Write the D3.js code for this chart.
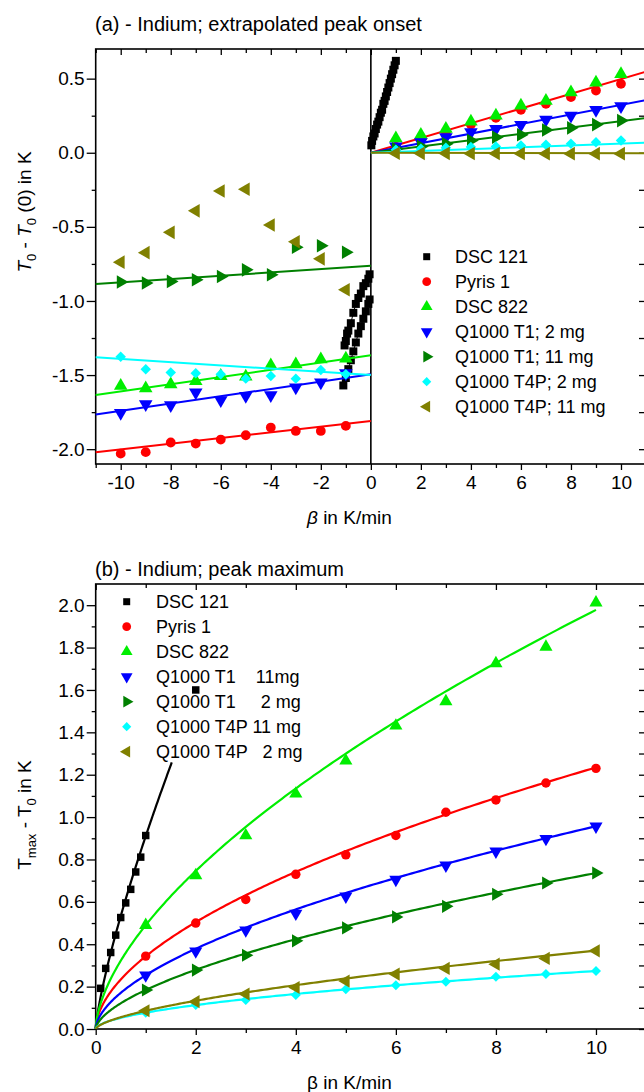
<!DOCTYPE html>
<html>
<head>
<meta charset="utf-8">
<script src="https://cdn.jsdelivr.net/npm/d3@7"></script>
<style>
  html, body { margin: 0; padding: 0; background: #fff; }
  svg { display: block; }
  text { font-family: "Liberation Sans", Arial, sans-serif; fill: #000; }
</style>
</head>
<body>
<svg id="chart" width="644" height="1092"></svg>
<script>
// ---------------- DATA ----------------
const seriesNames = ["DSC 121", "Pyris 1", "DSC 822", "Q1000 T1; 2 mg", "Q1000 T1; 11 mg", "Q1000 T4P; 2 mg", "Q1000 T4P; 11 mg"];
const seriesNamesB = ["DSC 121", "Pyris 1", "DSC 822", "Q1000 T1    11mg", "Q1000 T1     2 mg", "Q1000 T4P 11 mg", "Q1000 T4P   2 mg"];
const seriesColors = ["#000000", "#ff0000", "#00ee00", "#0000ff", "#008000", "#00ffff", "#808000"];
const seriesSymbols = ["square", "circle", "up", "down", "right", "diamond", "left"];

// Panel (a): heating rates
const betaPos = [1, 2, 3, 4, 5, 6, 7, 8, 9, 10];
const betaNeg = [-10, -9, -8, -7, -6, -5, -4, -3, -2, -1];

const pyrisPos   = [0.04, 0.09, 0.14, 0.19, 0.235, 0.29, 0.33, 0.375, 0.42, 0.465];
const dsc822Pos  = [0.098, 0.121, 0.161, 0.21, 0.25, 0.318, 0.351, 0.407, 0.474, 0.53];
const t1_2Pos    = [0.042, 0.071, 0.105, 0.138, 0.161, 0.188, 0.223, 0.25, 0.289, 0.315];
const t1_11Pos   = [0.027, 0.042, 0.06, 0.083, 0.105, 0.121, 0.154, 0.168, 0.19, 0.217];
const t4p_2Pos   = [0.02, 0.027, 0.034, 0.038, 0.042, 0.049, 0.054, 0.06, 0.071, 0.083];
const t4p_11Pos  = [-0.003, -0.004, -0.004, -0.005, -0.005, -0.005, -0.006, -0.006, -0.006, -0.006];

const pyrisNeg   = [-2.03, -2.02, -1.955, -1.962, -1.935, -1.906, -1.854, -1.877, -1.877, -1.843];
const dsc822Neg  = [-1.573, -1.589, -1.562, -1.54, -1.506, -1.51, -1.434, -1.427, -1.394, -1.389];
const t1_2Neg    = [-1.756, -1.696, -1.703, -1.617, -1.669, -1.64, -1.635, -1.584, -1.55, -1.488];
const t1_11Neg   = [-0.872, -0.879, -0.868, -0.857, -0.835, -0.79, -0.823, -0.638, -0.627, -0.671];
const t4p_2Neg   = [-1.376, -1.461, -1.483, -1.488, -1.495, -1.524, -1.506, -1.524, -1.466, -1.495];
const t4p_11Neg  = [-0.738, -0.674, -0.537, -0.392, -0.258, -0.246, -0.488, -0.6, -0.716, -0.924];

// DSC 121 (panel a), dense sampling near zero
const dsc121PosBeta = [0.02, 0.05, 0.1, 0.15, 0.2, 0.25, 0.3, 0.35, 0.4, 0.45, 0.5, 0.55, 0.6, 0.65, 0.7, 0.75, 0.8, 0.85, 0.9, 0.95, 1.0];
const dsc121PosVal  = [0.05, 0.08, 0.11, 0.13, 0.16, 0.19, 0.21, 0.24, 0.27, 0.29, 0.33, 0.35, 0.38, 0.41, 0.44, 0.47, 0.5, 0.53, 0.56, 0.59, 0.62];
const dsc121NegABeta = [-1.05, -1.0, -0.95, -0.9, -0.8, -0.7, -0.6, -0.5, -0.4, -0.3, -0.2, -0.1, -0.05];
const dsc121NegAVal  = [-1.3, -1.27, -1.22, -1.2, -1.15, -1.08, -1.02, -0.98, -0.95, -0.9, -0.88, -0.85, -0.82];
const dsc121NegBBeta = [-1.1, -1.0, -0.9, -0.8, -0.7, -0.6, -0.5, -0.4, -0.3, -0.2, -0.1, -0.05];
const dsc121NegBVal  = [-1.57, -1.52, -1.46, -1.4, -1.34, -1.28, -1.22, -1.17, -1.12, -1.07, -1.02, -0.99];

// Fit lines panel (a): value at beta=11 for lines through origin (null = no line)
const fitPosEnd   = [null, 0.547, null, 0.355, 0.235, 0.068, -0.003];
// Left-side fits: value at beta=-11 and at beta=0
const fitNegStart = [null, -2.02, -1.635, -1.766, -0.885, -1.38, null];
const fitNegEnd   = [null, -1.81, -1.367, -1.495, -0.763, -1.50, null];

// Panel (b)
const betaB = [1, 2, 3, 4, 5, 6, 7, 8, 9, 10];
const pyrisB  = [0.344, 0.5, 0.611, 0.73, 0.822, 0.913, 1.023, 1.081, 1.161, 1.23];
const dsc822B = [0.49, 0.725, 0.913, 1.11, 1.266, 1.431, 1.546, 1.725, 1.803, 2.012];
const t1_11B  = [0.254, 0.367, 0.466, 0.545, 0.626, 0.705, 0.772, 0.838, 0.898, 0.956];
const t1_2B   = [0.184, 0.278, 0.348, 0.416, 0.477, 0.529, 0.579, 0.636, 0.689, 0.736];
const t4p_11B = [0.077, 0.113, 0.137, 0.16, 0.187, 0.207, 0.223, 0.246, 0.259, 0.274];
const t4p_2B  = [0.086, 0.129, 0.165, 0.196, 0.226, 0.259, 0.286, 0.306, 0.333, 0.369];
const dsc121BBeta = [0.1, 0.2, 0.3, 0.4, 0.5, 0.6, 0.7, 0.8, 0.9, 1.0, 2.0];
const dsc121BVal  = [0.192, 0.286, 0.361, 0.443, 0.526, 0.595, 0.659, 0.741, 0.811, 0.913, 1.6];

// Power-law fit parameters panel (b): y = a * beta^b, drawn up to betaMax
const fitBa   = [0.91, 0.343, 0.49, 0.254, 0.184, 0.077, 0.086];
const fitBb   = [0.773, 0.556, 0.606, 0.576, 0.602, 0.551, 0.633];
const fitBmax = [1.52, 10, 10, 10, 10, 10, 10];

// Axis ticks
const xTicksA = [-10, -8, -6, -4, -2, 0, 2, 4, 6, 8, 10];
const yTicksA = [-2.0, -1.5, -1.0, -0.5, 0.0, 0.5];
const xTicksB = [0, 2, 4, 6, 8, 10];
const yTicksB = [0.0, 0.2, 0.4, 0.6, 0.8, 1.0, 1.2, 1.4, 1.6, 1.8, 2.0];

// ---------------- DRAWING ----------------
const svg = d3.select("#chart");

function symbolPath(kind, size) {
  let t = d3.symbolTriangle;
  if (kind === "square" || kind === "diamond") t = d3.symbolSquare;
  else if (kind === "circle") t = d3.symbolCircle;
  return d3.symbol().type(t).size(size)();
}
function symbolRot(kind) {
  return {down: 180, right: 90, left: -90, diamond: 45}[kind] || 0;
}
function drawMarkers(g, pts, x, y, kind, color, size) {
  g.selectAll(null).data(pts).enter().append("path")
    .attr("d", symbolPath(kind, size))
    .attr("transform", d => `translate(${x(d[0])},${y(d[1])}) rotate(${symbolRot(kind)})`)
    .attr("fill", color);
}
function zip(a, b) { return a.map((v, i) => [v, b[i]]); }

function frame(g, x, y, opts) {
  const [x0, x1] = x.range(), [y0, y1] = y.range();
  const bottom = g.append("g").attr("transform", `translate(0,${y0})`)
    .call(d3.axisBottom(x).tickValues(opts.xTicks).tickSize(6).tickPadding(6));
  const bottomMinor = g.append("g").attr("transform", `translate(0,${y0})`)
    .call(d3.axisBottom(x).tickValues(opts.xMinor).tickSize(4).tickFormat(""));
  const top = g.append("g").attr("transform", `translate(0,${y1})`)
    .call(d3.axisTop(x).tickValues(opts.xTicks).tickSize(-6).tickFormat(""));
  const topMinor = g.append("g").attr("transform", `translate(0,${y1})`)
    .call(d3.axisTop(x).tickValues(opts.xMinor).tickSize(-4).tickFormat(""));
  const left = g.append("g").attr("transform", `translate(${x0},0)`)
    .call(d3.axisLeft(y).tickValues(opts.yTicks).tickSize(9).tickPadding(2));
  const leftMinor = g.append("g").attr("transform", `translate(${x0},0)`)
    .call(d3.axisLeft(y).tickValues(opts.yMinor).tickSize(4).tickFormat(""));
  const right = g.append("g").attr("transform", `translate(${x1},0)`)
    .call(d3.axisRight(y).tickValues(opts.yTicks.concat(opts.yMinor)).tickSize(-7).tickFormat(""));
  [bottom, bottomMinor, top, topMinor, left, leftMinor, right].forEach(a => {
    a.select(".domain").remove();
    a.selectAll("line").attr("stroke", "#000").attr("stroke-width", 1.3);
    a.selectAll("text").attr("font-size", 19).attr("font-family", "Liberation Sans, Arial, sans-serif").attr("fill", "#000");
  });
  left.selectAll("text").text(d => d3.format(".1f")(d).replace("\u2212", "-"));
  bottom.selectAll("text").text(d => String(d));
  g.append("rect").attr("x", x0).attr("y", y1).attr("width", x1 - x0).attr("height", y0 - y1)
    .attr("fill", "none").attr("stroke", "#000").attr("stroke-width", 1.6);
}

// ===== Panel (a) =====
const xA = d3.scaleLinear().domain([-11, 11]).range([95.7, 646]);
const yA = d3.scaleLinear().domain([-2.1, 0.7]).range([464, 49]);
const gA = svg.append("g");

const minorXA = d3.range(-11, 12).filter(v => !xTicksA.includes(v));
const minorYA = [-1.75, -1.25, -0.75, -0.25, 0.25];
frame(gA, xA, yA, {xTicks: xTicksA, xMinor: minorXA, yTicks: yTicksA, yMinor: minorYA});

gA.append("line").attr("x1", xA(0)).attr("x2", xA(0)).attr("y1", yA(0.7)).attr("y2", yA(-2.1))
  .attr("stroke", "#000").attr("stroke-width", 1.6);

const posVals = [null, pyrisPos, dsc822Pos, t1_2Pos, t1_11Pos, t4p_2Pos, t4p_11Pos];
const negVals = [null, pyrisNeg, dsc822Neg, t1_2Neg, t1_11Neg, t4p_2Neg, t4p_11Neg];
const lineA = d3.line().x(d => xA(d[0])).y(d => yA(d[1]));

gA.append("path").attr("d", lineA(zip(dsc121NegABeta, dsc121NegAVal))).attr("fill", "none").attr("stroke", "#000").attr("stroke-width", 1);
gA.append("path").attr("d", lineA(zip(dsc121NegBBeta, dsc121NegBVal))).attr("fill", "none").attr("stroke", "#000").attr("stroke-width", 1);
drawMarkers(gA, zip(dsc121PosBeta, dsc121PosVal), xA, yA, "square", "#000", 64);
drawMarkers(gA, zip(dsc121NegABeta, dsc121NegAVal), xA, yA, "square", "#000", 64);
drawMarkers(gA, zip(dsc121NegBBeta, dsc121NegBVal), xA, yA, "square", "#000", 64);

const symSizeA = {circle: 75, up: 80, down: 80, right: 80, left: 80, diamond: 55, square: 64};
for (let i = 1; i < seriesNames.length; i++) {
  const c = seriesColors[i], k = seriesSymbols[i];
  if (fitPosEnd[i] !== null) {
    gA.append("path").attr("d", lineA([[0, 0], [11, fitPosEnd[i]]])).attr("stroke", c).attr("stroke-width", 2).attr("fill", "none");
  }
  if (fitNegStart[i] !== null) {
    gA.append("path").attr("d", lineA([[-11, fitNegStart[i]], [0, fitNegEnd[i]]])).attr("stroke", c).attr("stroke-width", 2).attr("fill", "none");
  }
  drawMarkers(gA, zip(betaPos, posVals[i]), xA, yA, k, c, symSizeA[k]);
  drawMarkers(gA, zip(betaNeg, negVals[i]), xA, yA, k, c, symSizeA[k]);
}

// legend (a)
const legA = svg.append("g");
seriesNames.forEach((n, i) => {
  const cy = 256.7 + 25 * i;
  const k = seriesSymbols[i];
  legA.append("path").attr("d", symbolPath(k, k === "square" ? 49 : (k === "diamond" ? 42 : 60)))
    .attr("transform", `translate(426.7,${cy}) rotate(${symbolRot(k)})`).attr("fill", seriesColors[i]);
  legA.append("text").attr("x", 455).attr("y", cy + 6.5).attr("font-size", 18).text(n);
});

svg.append("text").attr("x", 95).attr("y", 31).attr("font-size", 20).text("(a) - Indium; extrapolated peak onset");
const xlabA = svg.append("text").attr("x", 307).attr("y", 524).attr("font-size", 19);
xlabA.append("tspan").attr("font-style", "italic").text("β");
xlabA.append("tspan").text(" in K/min");

const ylabA = svg.append("text").attr("transform", "translate(31,212) rotate(-90)").attr("text-anchor", "middle").attr("font-size", 19);
ylabA.append("tspan").attr("font-style", "italic").text("T");
ylabA.append("tspan").attr("font-size", 13).attr("dy", 5).text("0");
ylabA.append("tspan").attr("dy", -5).text(" - ");
ylabA.append("tspan").attr("font-style", "italic").text("T");
ylabA.append("tspan").attr("font-size", 13).attr("dy", 5).text("0");
ylabA.append("tspan").attr("dy", -5).text(" (0) in K");

// ===== Panel (b) =====
const xB = d3.scaleLinear().domain([0, 11]).range([95.7, 646]);
const yB = d3.scaleLinear().domain([0, 2.1]).range([1029, 584]);
const gB = svg.append("g");
const minorXB = d3.range(1, 12).filter(v => !xTicksB.includes(v));
const minorYB = d3.range(1, 21, 2).map(v => v / 10);
frame(gB, xB, yB, {xTicks: xTicksB, xMinor: minorXB, yTicks: yTicksB, yMinor: minorYB});

const valsB = [null, pyrisB, dsc822B, t1_11B, t1_2B, t4p_11B, t4p_2B];
const lineB = d3.line().x(d => xB(d[0])).y(d => yB(d[1]));
const symSizeB = {circle: 70, up: 75, down: 75, right: 75, left: 75, diamond: 50, square: 56};

for (let i = 0; i < seriesNames.length; i++) {
  const c = seriesColors[i], k = seriesSymbols[i];
  const fx = d3.range(0, 201).map(j => fitBmax[i] * Math.pow(j / 200, 2));
  const curve = fx.map(b => [b, fitBa[i] * Math.pow(b, fitBb[i])]);
  gB.append("path").attr("d", lineB(curve)).attr("fill", "none").attr("stroke", c).attr("stroke-width", 2.2);
  const pts = i === 0 ? zip(dsc121BBeta, dsc121BVal) : zip(betaB, valsB[i]);
  drawMarkers(gB, pts, xB, yB, k, c, symSizeB[k]);
}

// legend (b)
const legB = svg.append("g");
seriesNamesB.forEach((n, i) => {
  const cy = 601.7 + 25 * i;
  const k = seriesSymbols[i];
  legB.append("path").attr("d", symbolPath(k, k === "square" ? 49 : (k === "diamond" ? 42 : 60)))
    .attr("transform", `translate(126.7,${cy}) rotate(${symbolRot(k)})`).attr("fill", seriesColors[i]);
  legB.append("text").attr("x", 156).attr("y", cy + 6.5).attr("font-size", 18)
    .attr("xml:space", "preserve").style("white-space", "pre").text(n);
});

svg.append("text").attr("x", 95).attr("y", 576).attr("font-size", 20).text("(b) - Indium; peak maximum");
svg.append("text").attr("x", 307).attr("y", 1089).attr("font-size", 19).text("β in K/min");
const ylabB = svg.append("text").attr("transform", "translate(31,815) rotate(-90)").attr("text-anchor", "middle").attr("font-size", 19);
ylabB.append("tspan").text("T");
ylabB.append("tspan").attr("font-size", 13).attr("dy", 5).text("max");
ylabB.append("tspan").attr("dy", -5).text(" - T");
ylabB.append("tspan").attr("font-size", 13).attr("dy", 5).text("0");
ylabB.append("tspan").attr("dy", -5).text(" in K");
</script>
</body>
</html>
